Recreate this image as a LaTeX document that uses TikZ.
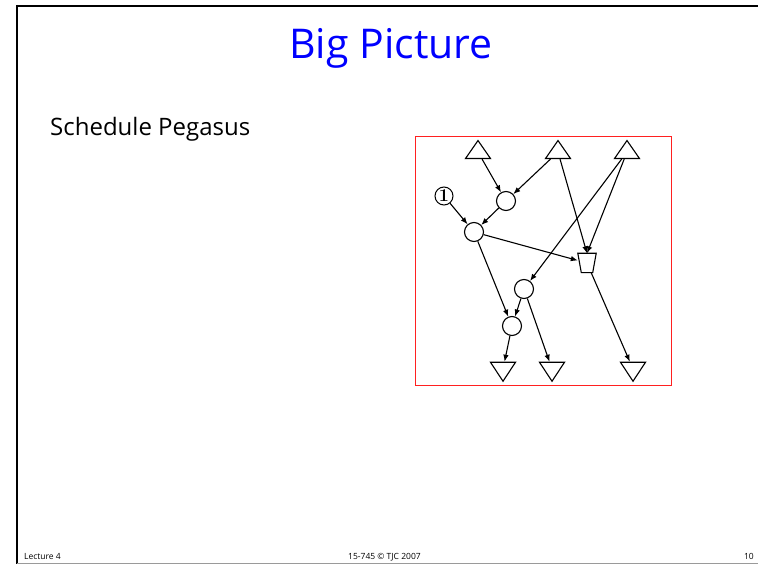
\documentclass[tikz,border=0pt]{standalone}
\usepackage{fontspec}
\setmainfont{Open Sans}
\newfontfamily\digitfont{Latin Modern Roman}
\usetikzlibrary{arrows.meta,shapes.geometric}
\definecolor{TitleBlue}{HTML}{0000FF}
\definecolor{FrameRed}{HTML}{FF2020}
\definecolor{RuleGray}{HTML}{9A9A9A}
\tikzset{
  srcnode/.style={isosceles triangle,isosceles triangle stretches,
                  shape border rotate=90,draw,line width=1.1pt,inner sep=0pt,
                  minimum width=25pt,minimum height=18pt},
  sinknode/.style={isosceles triangle,isosceles triangle stretches,
                   shape border rotate=-90,draw,line width=1.1pt,inner sep=0pt,
                   minimum width=25pt,minimum height=19pt},
  opnode/.style={circle,draw,line width=1.1pt,minimum size=19pt,inner sep=0pt},
  mergenode/.style={rectangle,inner sep=0pt,minimum width=18pt,minimum height=19pt},
  flow/.style={-{Latex[length=7pt,width=5.5pt]},line width=1.1pt},
  foot/.style={font=\fontsize{8.5}{10}\selectfont,inner sep=0pt},
}

\begin{document}
\begin{tikzpicture}[x=1pt,y=-1pt]
  \useasboundingbox (0,0) rectangle (758,564);

  \draw[line width=2pt] (17,6) -- (758,6);
  \draw[line width=2pt] (17,5) -- (17,564);
  \draw[RuleGray,line width=1pt] (17,563) -- (758,563);

  \node[anchor=base,inner sep=0pt,text=TitleBlue,
        font=\fontsize{41}{45}\selectfont] (title) at (391,59) {Big Picture};
  \node[anchor=base west,inner sep=0pt,
        font=\fontsize{24}{28}\selectfont] (task) at (50,136) {Schedule Pegasus};

  \node[anchor=base west,foot] (lect) at (24,559) {Lecture 4};
  \node[anchor=base west,foot] (course) at (348,559) {15-745 © TJC 2007};
  \node[anchor=base east,foot] (page) at (754,559) {10};

  \draw[FrameRed,line width=0.9pt] (415,136) rectangle (671,385);

  \node[srcnode] (t1) at (478,152) {};
  \node[srcnode] (t2) at (558,152) {};
  \node[srcnode] (t3) at (627,152) {};

  \node[opnode,minimum size=18pt,line width=1pt,
        font=\digitfont\bfseries\fontsize{18}{18}\selectfont]
    (one) at (444,196) {1};
  \node[opnode] (a) at (506,201) {};
  \node[opnode] (b) at (474,232) {};
  \node[mergenode] (m) at (587,263) {};
  \draw[line width=1.1pt] (m.north west) -- (m.north east)
    -- ([xshift=-3.5pt]m.south east) -- ([xshift=3.5pt]m.south west) -- cycle;
  \node[opnode] (c) at (524,289) {};
  \node[opnode] (d) at (512,326) {};

  \node[sinknode] (s1) at (503,369) {};
  \node[sinknode] (s2) at (552,369) {};
  \node[sinknode] (s3) at (633,369) {};

  \draw[flow] (t1) -- (a);
  \draw[flow] (t2) -- (a);
  \draw[flow] (t2) -- (m.north);
  \draw[flow] (t3) -- (m.north);
  \draw[flow] (t3) -- (c);
  \draw[flow] (one) -- (b);
  \draw[flow] (a) -- (b);
  \draw[flow] (b) -- (m);
  \draw[flow] (b) -- (d);
  \draw[flow] (c) -- (d);
  \draw[flow] (c) -- (s2);
  \draw[flow] (d) -- (s1);
  \draw[flow] (m) -- (s3);

\end{tikzpicture}
\end{document}
